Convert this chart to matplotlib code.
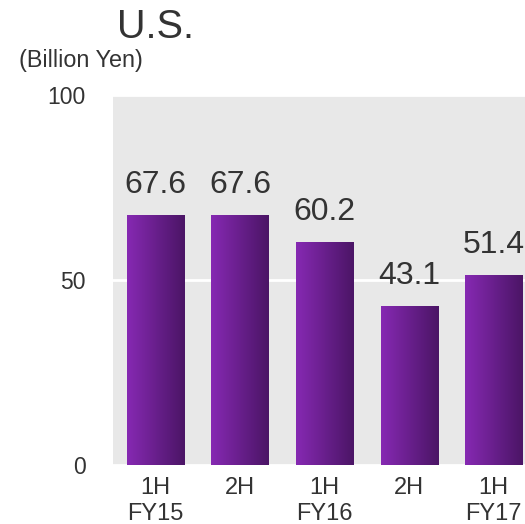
import matplotlib.pyplot as plt
import numpy as np
from matplotlib.colors import LinearSegmentedColormap

plt.rcParams['font.family'] = ['Liberation Sans', 'DejaVu Sans']

periods = ['1H\nFY15', '2H', '1H\nFY16', '2H', '1H\nFY17']
sales = [67.6, 67.6, 60.2, 43.1, 51.4]
yticks = [0, 50, 100]

txt = '#333333'
purple = LinearSegmentedColormap.from_list('purp', ['#8629b2', '#4b1566'])

fig = plt.figure(figsize=(5.25, 5.24), dpi=100)
ax = fig.add_axes([113 / 525, 59 / 524, 412 / 525, 370 / 524])
ax.set_facecolor('#e8e8e8')

x = np.arange(len(sales))
bars = ax.bar(x, sales, width=0.675, color='none', zorder=2)
grad = np.linspace(0, 1, 64).reshape(1, -1)
for b, v in zip(bars, sales):
    x0 = b.get_x()
    im = ax.imshow(grad, cmap=purple, aspect='auto', zorder=2,
                   extent=(x0, x0 + b.get_width(), 0, v))
    im.set_clip_path(b)
    ax.text(b.get_x() + b.get_width() / 2, v + 4, f'{v:.1f}', ha='center',
            va='bottom', fontsize=23, color=txt)

ax.set_xlim(-0.5, 4.37)
ax.set_ylim(0, 100)
ax.set_yticks(yticks)
ax.set_yticklabels([str(t) for t in yticks])
ax.set_xticks(x)
ax.set_xticklabels(periods)
ax.yaxis.grid(True, color='white', linewidth=2)
ax.set_axisbelow(True)
for s in ax.spines.values():
    s.set_visible(False)
ax.tick_params(axis='both', length=0, labelsize=16.5, colors=txt)
ax.tick_params(axis='x', labelsize=17, pad=9)
ax.tick_params(axis='y', pad=19.5)

fig.text(155 / 525, 1 - 27 / 524, 'U.S.', ha='center', va='center', fontsize=28.5, color=txt)
fig.text(81 / 525, 1 - 61 / 524, '(Billion Yen)', ha='center', va='center', fontsize=16.8, color=txt)

fig.savefig('out.png', dpi=100)
